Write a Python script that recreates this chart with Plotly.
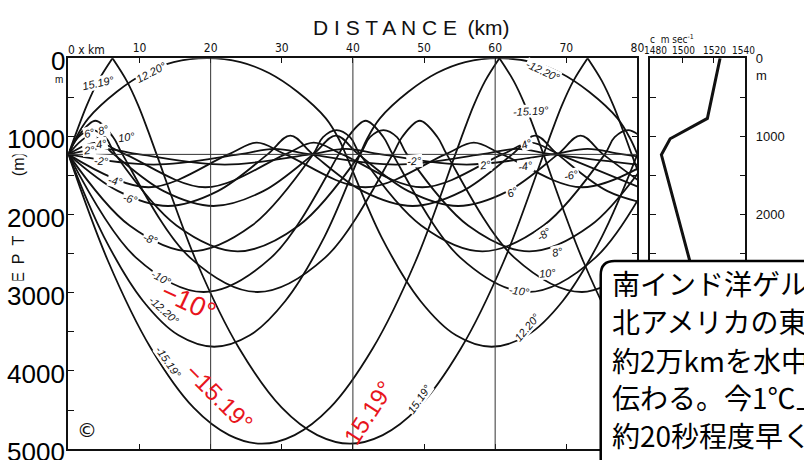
import plotly.graph_objects as go

W, H = 804, 460

# ---- data -------------------------------------------------------------
DIST_TICKS = [0, 10, 20, 30, 40, 50, 60, 70, 80]
DIST_LABELS = ["", "10", "20", "30", "40", "50", "60", "70", "80"]
DEPTH_TICKS = [0, 1000, 2000, 3000, 4000, 5000]
DEPTH_MINOR = [0, 500, 1000, 1500, 2000, 2500, 3000, 3500, 4000, 4500, 5000]
GRID_KM = [20, 40, 60]
CHANNEL_AXIS_M = 1230

SPEED_TICKS = [1480, 1500, 1520, 1540]
SPEED_LABEL_SHIFT = [5, 1, 1, -2]
PROFILE_DEPTH = [0, 770, 1030, 1235, 2600, 5000]
PROFILE_SPEED = [1524, 1516, 1492.5, 1487, 1505, 1538]

# ray paths: (distance km, depth m); None separates surface-reflected legs
RAY_P2 = [(0, 1230), (5, 1160), (10, 1230), (22, 1360), (34, 1230), (39, 1160),
          (44, 1230), (56, 1360), (68, 1230), (73, 1160), (78, 1230), (90, 1360)]
RAY_M2 = [(0, 1230), (12, 1360), (24, 1230), (29, 1160), (34, 1230), (46, 1360),
          (58, 1230), (63, 1160), (68, 1230), (80, 1360)]
RAY_P4 = [(0, 1230), (4, 1080), (8, 1230), (19.25, 1650), (30.5, 1230), (34.5, 1080),
          (38.5, 1230), (49.75, 1650), (61, 1230), (65, 1080), (69, 1230), (80.25, 1650)]
RAY_M4 = [(0, 1230), (11.25, 1650), (22.5, 1230), (26.5, 1080), (30.5, 1230),
          (41.75, 1650), (53, 1230), (57, 1080), (61, 1230), (72.25, 1650), (83.5, 1230)]
RAY_P6 = [(0, 1230), (3.2, 990), (6.4, 1230), (13.4, 1700), (20.4, 1890), (27.4, 1700),
          (34.4, 1230), (37.6, 990), (40.8, 1230), (47.8, 1700), (54.8, 1890), (61.8, 1700),
          (68.8, 1230), (72, 990), (75.2, 1230), (82.2, 1700)]
RAY_M6 = [(0, 1230), (7, 1700), (14, 1890), (21, 1700), (28, 1230), (31.2, 990),
          (34.4, 1230), (41.4, 1700), (48.4, 1890), (55.4, 1700), (62.4, 1230), (65.6, 990),
          (68.8, 1230), (75.8, 1700), (82.8, 1890)]
RAY_P8 = [(0, 1230), (1.4, 1010), (3.3, 920), (5.2, 1010), (6.6, 1230), (15.2, 2140),
          (23.8, 2470), (32.4, 2140), (41, 1230), (42.4, 1010), (44.3, 920), (46.2, 1010),
          (47.6, 1230), (56.2, 2140), (64.8, 2470), (73.4, 2140), (82, 1230)]
RAY_M8 = [(0, 1230), (8.6, 2140), (17.2, 2470), (25.8, 2140), (34.4, 1230), (35.8, 1010),
          (37.7, 920), (39.6, 1010), (41, 1230), (49.6, 2140), (58.2, 2470), (66.8, 2140),
          (75.4, 1230), (76.8, 1010), (78.7, 920), (80.6, 1010)]
RAY_P10 = [(0, 1230), (1.3, 1010), (3.8, 800), (6.3, 1010), (7.6, 1230), (17.1, 2550),
           (26.6, 2990), (36.1, 2550), (45.6, 1230), (46.9, 1010), (49.4, 800), (51.9, 1010),
           (53.2, 1230), (62.7, 2550), (72.2, 2990), (81.7, 2550)]
RAY_M10 = [(0, 1230), (9.5, 2550), (19, 2990), (28.5, 2550), (38, 1230), (39.3, 1010),
           (41.8, 800), (44.3, 1010), (45.6, 1230), (55.1, 2550), (64.6, 2990), (74.1, 2550),
           (83.6, 1230)]
RAY_P12 = [(0, 1230), (1.0, 1030), (2.8, 770), (6.8, 430), (10.8, 190), (14.8, 50),
           (19.5, 0), (24.2, 50), (28.2, 190), (32.2, 430), (36.2, 770), (38, 1030),
           (39, 1230), (44, 2284), (49.5, 3105), (54.5, 3544), (59.5, 3690), (64.5, 3544),
           (69.5, 3105), (75, 2284), (80, 1230)]
RAY_M12 = [(0, 1230), (5, 2284), (10.5, 3105), (15.5, 3544), (20.5, 3690), (25.5, 3544),
           (30.5, 3105), (36, 2284), (41, 1230), (42, 1030), (43.8, 770), (47.8, 430),
           (51.8, 190), (55.8, 50), (60.5, 0), (65.2, 50), (69.2, 190), (73.2, 430),
           (77.2, 770), (79, 1030), (80, 1230)]
RAY_P15 = [(0, 1230), (1.2, 930), (2.6, 600), (4.2, 290), (6.2, 0), None,
           (6.2, 0), (8.2, 290), (9.8, 600), (11.2, 930), (12.4, 1230), (18, 2600),
           (24, 3710), (30, 4470), (35, 4820), (39.6, 4930), (44.2, 4820), (49.2, 4470),
           (55.2, 3710), (61.2, 2600), (66.8, 1230), (68, 930), (69.4, 600), (71, 290),
           (73, 0), None,
           (73, 0), (75, 290), (76.6, 600), (78, 930), (79.2, 1230), (84.8, 2600)]
RAY_M15 = [(0, 1230), (5.6, 2600), (11.6, 3710), (17.6, 4470), (22.6, 4820), (27.2, 4930),
           (31.8, 4820), (36.8, 4470), (42.8, 3710), (48.8, 2600), (54.4, 1230),
           (55.6, 930), (57, 600), (58.6, 290), (60.6, 0), None,
           (60.6, 0), (62.6, 290), (64.2, 600), (65.6, 930), (66.8, 1230), (72.4, 2600),
           (78.4, 3710), (84.4, 4470)]

RAYS = [RAY_P2, RAY_M2, RAY_P4, RAY_M4, RAY_P6, RAY_M6, RAY_P8, RAY_M8,
        RAY_P10, RAY_M10, RAY_P12, RAY_M12, RAY_P15, RAY_M15]

# ray labels: text, pixel centre, rotation
RAY_LABELS = [
    ("15.19°", 99, 77, -12), ("12.20°", 153, 66, -28), ("10°", 128, 132, -8),
    ("6°", 90, 128, -15), ("8°", 104, 125, -15), ("4°", 102, 139, -10),
    ("2°", 90, 145, -5), ("-2°", 102, 156, 3), ("-4°", 117, 177, 12),
    ("-6°", 132, 195, 15), ("-8°", 152, 236, 20), ("-10°", 163, 275, 28),
    ("-12.20°", 165, 308, 42), ("-15.19°", 170, 360, 55),
    ("-12.20°", 548, 65, 25), ("-15.19°", 536, 106, -3), ("4°", 531, 139, -20),
    ("-4°", 530, 161, -8), ("2°", 489, 160, -8), ("-2°", 418, 156, -5),
    ("-6°", 577, 171, -12), ("6°", 517, 188, -25), ("-8°", 549, 231, -35),
    ("8°", 562, 249, -12), ("10°", 552, 270, -5), ("-10°", 524, 288, 8),
    ("12.20°", 532, 325, -50), ("15.19°", 423, 398, -55),
]

RED_LABELS = [("−10°", 190, 300, 25, 27), ("−15.19°", 221, 397, 45, 24),
              ("15.19°", 372, 412, -57, 24)]

NOTE_LINES = ["南インド洋ゲルゲレン諸島から", "北アメリカの東海岸まで", "約2万kmを水中の音が",
              "伝わる。今1℃上がると", "約20秒程度早く到着する", "ことになる。"]

NARROW = "Liberation Sans Narrow, DejaVu Sans Condensed, Liberation Sans"


def px(x):
    return x / W


def py(y):
    return 1 - y / H


X0, X1 = 69, 643
Y0, Y1 = 52, 449
SX0, SX1 = 656, 752

fig = go.Figure()

for ray in RAYS:
    xs = [p[0] if p else None for p in ray]
    zs = [p[1] if p else None for p in ray]
    fig.add_trace(go.Scatter(x=xs, y=zs, mode="lines", xaxis="x", yaxis="y",
                             line=dict(color="#111", width=1.8, shape="spline", smoothing=1.0),
                             hoverinfo="skip"))

fig.add_trace(go.Scatter(x=PROFILE_SPEED, y=PROFILE_DEPTH, mode="lines", xaxis="x2", yaxis="y2",
                         line=dict(color="#111", width=3), hoverinfo="skip"))

shapes = []
for g in GRID_KM:
    shapes.append(dict(type="line", xref="x", yref="y", x0=g, x1=g, y0=0, y1=5000,
                       line=dict(color="#333", width=1)))
shapes.append(dict(type="line", xref="x", yref="y", x0=0, x1=80, y0=CHANNEL_AXIS_M,
                   y1=CHANNEL_AXIS_M, line=dict(color="#333", width=1)))

# caption box with a rounded top-left corner
L, T, R, B, r = 606, 258, 830, 490, 14
path = (f"M {px(L)},{py(B)} L {px(L)},{py(T + r)} Q {px(L)},{py(T)} {px(L + r)},{py(T)} "
        f"L {px(R)},{py(T)} L {px(R)},{py(B)} Z")
shapes.append(dict(type="path", xref="paper", yref="paper", path=path, fillcolor="white",
                   line=dict(color="black", width=2.5), layer="above"))


def note(text, x, y, size, family="Liberation Sans", color="#111", xanchor="center",
         angle=0, bg=None):
    d = dict(text=text, x=px(x), y=py(y), xref="paper", yref="paper", xanchor=xanchor,
             yanchor="middle", textangle=angle, showarrow=False, borderpad=0,
             font=dict(family=family, size=size, color=color))
    if bg:
        d["bgcolor"] = bg
    return d


ann = []
ann.append(note("D I S T A N C E\u2002(km)", 415, 21, 21))
ann.append(note("0 x km", 68, 44, 12, family=NARROW, xanchor="left"))
# vertical depth title (partly hidden behind the depth numbers)
ann.append(note("D\u2002E\u2002P\u2002T\u2002H\u2003\u2002\u2002\u2002(m)", 19, 224, 16,
                angle=-90))
for d in DEPTH_TICKS:
    lab = dict(text=str(d), x=px(67), xref="paper", y=d, yref="y", yshift=-3,
               xanchor="right", yanchor="middle", showarrow=False, borderpad=0,
               font=dict(family="Liberation Sans", size=26, color="black"))
    if 0 < d < 5000:
        lab["bgcolor"] = "white"
    ann.append(lab)
ann.append(note("m", 60, 74, 10))
# sound-speed scale labels sit just inside the panel edge
for v, sh in zip(SPEED_TICKS, SPEED_LABEL_SHIFT):
    ann.append(dict(text=str(v), x=v, xref="x2", y=py(44), yref="paper", xshift=sh,
                    xanchor="center", yanchor="middle", showarrow=False,
                    font=dict(family=NARROW, size=10, color="#111")))
ann.append(note("c  m sec<sup>-1</sup>", 655, 32, 10, family=NARROW, xanchor="left"))
ann.append(note("m", 762, 70, 13, xanchor="left"))

for text, x, y, ang in RAY_LABELS:
    ann.append(note(f"<i>{text}</i>", x, y, 11, angle=ang, bg="white"))
for text, x, y, ang, size in RED_LABELS:
    ann.append(note(text, x, y, size, color="#e8141c", angle=ang))
ann.append(note("©", 88, 430, 20, family="DejaVu Sans"))

line_y = [280, 319, 358, 396, 435, 474]
for text, y in zip(NOTE_LINES, line_y):
    ann.append(note(text, 616, y, 28, family="Noto Sans CJK JP", color="black",
                    xanchor="left"))

axis_font = dict(family=NARROW, size=12, color="#111")
fig.update_layout(
    width=W, height=H, margin=dict(l=0, r=0, t=0, b=0),
    paper_bgcolor="white", plot_bgcolor="white", showlegend=False,
    xaxis=dict(domain=[px(X0), px(X1)], range=[0, 80], side="top", tickvals=DIST_TICKS,
               ticktext=DIST_LABELS, ticks="inside", ticklen=5, tickcolor="#111",
               showline=True, linecolor="#111", linewidth=1.5, mirror="ticks",
               showgrid=False, zeroline=False, tickfont=axis_font),
    yaxis=dict(domain=[py(Y1), py(Y0)], range=[5000, 0], tickvals=DEPTH_MINOR,
               showticklabels=False, ticks="inside", ticklen=6, tickcolor="#111",
               showline=True, linecolor="#111", linewidth=1.5, mirror="ticks",
               showgrid=False, zeroline=False),
    xaxis2=dict(domain=[px(SX0), px(SX1)], range=[1480, 1540], side="top", anchor="y2",
                tickvals=SPEED_TICKS, showticklabels=False, ticks="inside", ticklen=5,
                tickcolor="#111", showline=True, linecolor="#111", linewidth=1.5,
                mirror=True, showgrid=False, zeroline=False),
    yaxis2=dict(domain=[py(Y1), py(Y0)], range=[5000, 0], anchor="x2", side="right",
                tickvals=DEPTH_MINOR,
                ticktext=["0", "", "1000", "", "2000", "", "", "", "", "", ""],
                ticks="inside", ticklen=6, tickcolor="#111", showline=True,
                linecolor="#111", linewidth=1.5, mirror="ticks", showgrid=False,
                zeroline=False, ticklabelstandoff=6,
                tickfont=dict(family="Liberation Sans", size=13, color="#111")),
    shapes=shapes, annotations=ann,
)

fig.write_html("out.html")
